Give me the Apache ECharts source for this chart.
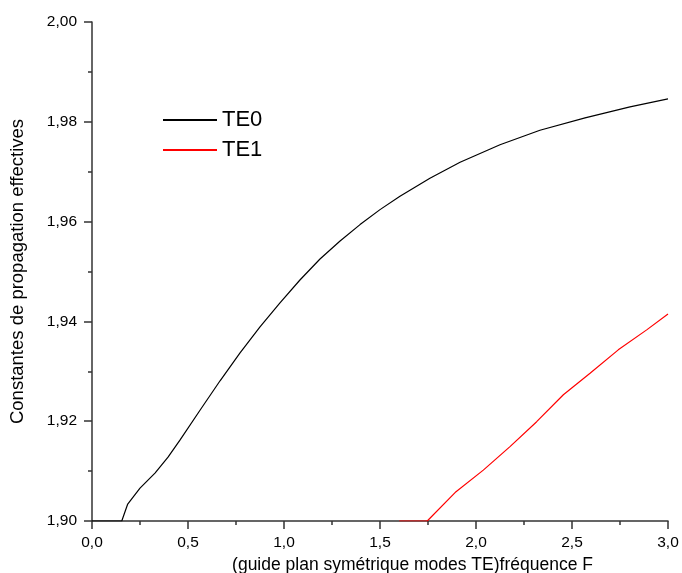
<!DOCTYPE html>
<html>
<head>
<meta charset="utf-8">
<script src="https://cdn.jsdelivr.net/npm/echarts@6/dist/echarts.min.js"></script>
<style>
  html, body { margin: 0; padding: 0; background: #fff; }
  #chart { width: 682px; height: 573px; }
</style>
</head>
<body>
<div id="chart"></div>
<script>
// Normalised frequency F for the fundamental TE0 mode and its effective index
const te0F = [0, 0.155, 0.186, 0.25, 0.328, 0.396, 0.458, 0.5625, 0.667, 0.771, 0.875, 0.979, 1.083, 1.1875, 1.292, 1.396, 1.5, 1.604, 1.760, 1.917, 2.125, 2.333, 2.568, 2.802, 3.0];
const te0N = [1.900, 1.900, 1.9034, 1.9066, 1.9096, 1.9128, 1.9162, 1.9222, 1.9281, 1.9337, 1.9389, 1.9437, 1.9483, 1.9525, 1.9561, 1.9594, 1.9624, 1.9651, 1.9687, 1.9719, 1.9754, 1.9783, 1.9808, 1.9830, 1.9846];

// First odd mode TE1 (cut-off near F = 1,75)
const te1F = [1.6, 1.746, 1.891, 2.038, 2.177, 2.316, 2.455, 2.594, 2.741, 2.889, 3.0];
const te1N = [1.900, 1.900, 1.9057, 1.9102, 1.9149, 1.9199, 1.9253, 1.9296, 1.9343, 1.9383, 1.9415];

const seriesNames = ['TE0', 'TE1'];
const xTitle = '(guide plan symétrique modes TE)fréquence F';
const yTitle = 'Constantes de propagation effectives';

const pairs = (xs, ys) => xs.map((x, i) => [x, ys[i]]);
const comma = (v, d) => v.toFixed(d).replace('.', ',');

const axisColor = '#333';
const font = 'Liberation Sans, Arial, sans-serif';

const chart = echarts.init(document.getElementById('chart'), null, { renderer: 'canvas' });
chart.setOption({
  animation: false,
  backgroundColor: '#fff',
  grid: { left: 92, top: 22, right: 14, bottom: 52, containLabel: false, outerBoundsMode: 'none' },
  legend: {
    orient: 'vertical',
    left: 158,
    top: 104,
    itemWidth: 54,
    itemHeight: 2,
    itemGap: 8,
    icon: 'rect',
    data: seriesNames,
    textStyle: { fontFamily: font, fontSize: 22, color: '#000' }
  },
  xAxis: {
    type: 'value',
    min: 0, max: 3, interval: 0.5,
    name: xTitle,
    nameLocation: 'middle',
    nameGap: 34,
    nameTextStyle: { fontFamily: font, fontSize: 17.5, color: '#000', padding: [0, 0, 0, 65] },
    axisLine: { show: true, onZero: false, lineStyle: { color: axisColor, width: 1.5 } },
    axisTick: { show: true, inside: false, length: 8, lineStyle: { color: axisColor, width: 1.5 } },
    minorTick: { show: true, splitNumber: 2, length: 4, lineStyle: { color: axisColor, width: 1.5 } },
    splitLine: { show: false },
    axisLabel: { fontFamily: font, fontSize: 15.5, color: '#000', margin: 14, formatter: v => comma(v, 1) }
  },
  yAxis: {
    type: 'value',
    min: 1.9, max: 2.0, interval: 0.02,
    name: yTitle,
    nameLocation: 'middle',
    nameGap: 65,
    nameTextStyle: { fontFamily: font, fontSize: 18.5, color: '#000' },
    axisLine: { show: true, onZero: false, lineStyle: { color: axisColor, width: 1.5 } },
    axisTick: { show: true, inside: false, length: 8, lineStyle: { color: axisColor, width: 1.5 } },
    minorTick: { show: true, splitNumber: 2, length: 4, lineStyle: { color: axisColor, width: 1.5 } },
    splitLine: { show: false },
    axisLabel: { fontFamily: font, fontSize: 15.5, color: '#000', margin: 15, formatter: v => comma(v, 2) }
  },
  series: [
    {
      name: seriesNames[0], type: 'line', data: pairs(te0F, te0N),
      symbol: 'none',
      color: '#000', lineStyle: { color: '#000', width: 1.2 }, z: 3
    },
    {
      name: seriesNames[1], type: 'line', data: pairs(te1F, te1N),
      symbol: 'none',
      color: '#ff0000', lineStyle: { color: '#ff0000', width: 1.2 }, z: 3
    }
  ]
});
</script>
</body>
</html>
